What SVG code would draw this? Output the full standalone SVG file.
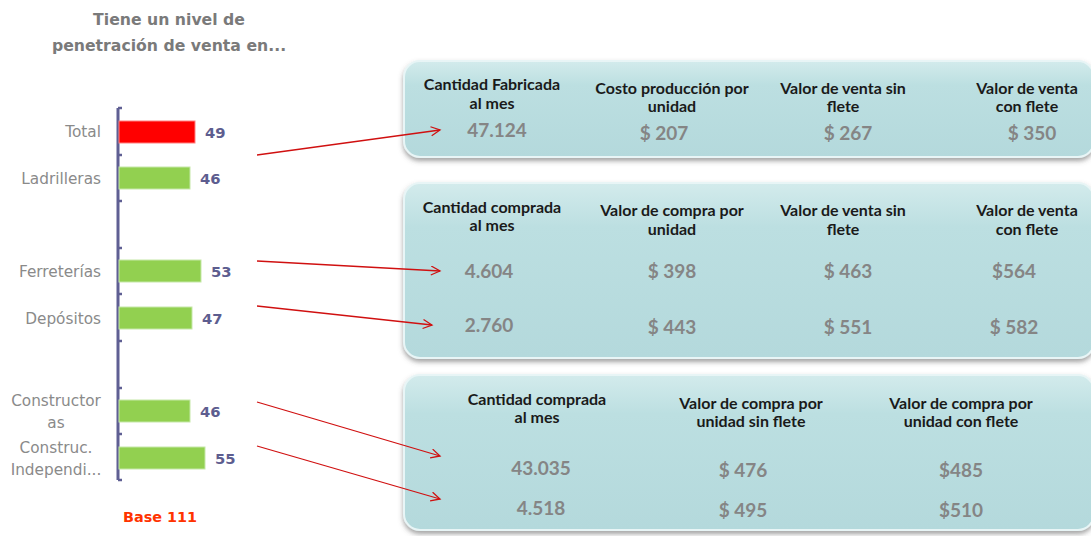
<svg xmlns="http://www.w3.org/2000/svg" width="1091" height="536" viewBox="0 0 1091 536">
<defs>
<linearGradient id="pg" x1="0" y1="0" x2="0" y2="1">
<stop offset="0" stop-color="#d3ebec"/>
<stop offset="0.25" stop-color="#bcdfe1"/>
<stop offset="1" stop-color="#b4d9dc"/>
</linearGradient>
<filter id="sh" x="-5%" y="-10%" width="110%" height="125%">
<feDropShadow dx="0" dy="3" stdDeviation="2.5" flood-color="#555" flood-opacity="0.55"/>
</filter>
<marker id="ah" markerWidth="12" markerHeight="12" refX="10" refY="5" orient="auto" markerUnits="userSpaceOnUse">
<path d="M1,0.5 L10,5 L1,9.5" fill="none" stroke="#d01010" stroke-width="1.3"/>
</marker>
<style>
.title{font-family:"DejaVu Sans",sans-serif;font-weight:bold;font-size:15.7px;fill:#7a7a7a;text-anchor:middle}
.cat{font-family:"DejaVu Sans",sans-serif;font-size:15.3px;fill:#8a8a8a;text-anchor:end}
.catc{font-family:"DejaVu Sans",sans-serif;font-size:15.3px;fill:#8a8a8a;text-anchor:middle}
.val{font-family:"DejaVu Sans",sans-serif;font-weight:bold;font-size:14.8px;fill:#5d5d8f}
.base{font-family:"DejaVu Sans",sans-serif;font-weight:bold;font-size:14.4px;fill:#ff3300;text-anchor:middle}
.hd{font-family:Lato,"Liberation Sans",sans-serif;font-weight:bold;font-size:16px;fill:#1a1a1a;text-anchor:middle}
.num{font-family:Lato,"Liberation Sans",sans-serif;font-weight:bold;font-size:19px;fill:#858585;text-anchor:middle}
.panel{fill:url(#pg);stroke:#e8f5f6;stroke-width:2;filter:url(#sh)}
.bar{fill:#92d050;stroke:#c5e8a8;stroke-width:1}
.axis{stroke:#5f5f93;stroke-width:3;fill:none}
.conn{stroke:#d01010;stroke-width:1.3;fill:none;marker-end:url(#ah)}
</style>
</defs>
<rect width="1091" height="536" fill="#ffffff"/>

<g id="title">
<text class="title" x="169" y="25">Tiene un nivel de</text>
<text class="title" x="169" y="51">penetración de venta en...</text>
</g>

<g id="axis">
<path class="axis" d="M118,108 V480"/>
<path d="M118,108 h4 M118,155 h4 M118,201 h4 M118,248 h4 M118,294 h4 M118,341 h4 M118,388 h4 M118,434 h4 M118,480 h4" stroke="#5f5f93" stroke-width="2.5"/>
</g>

<g id="bar-total">
<text class="cat" x="101" y="137">Total</text>
<rect x="119" y="121" width="76" height="22" fill="#ff0000" stroke="#ff8080" stroke-width="1"/>
<text class="val" x="205" y="138">49</text>
</g>
<g id="bar-ladrilleras">
<text class="cat" x="101" y="184">Ladrilleras</text>
<rect class="bar" x="119" y="167" width="71" height="22"/>
<text class="val" x="200" y="184">46</text>
</g>
<g id="bar-ferreterias">
<text class="cat" x="101" y="277">Ferreterías</text>
<rect class="bar" x="119" y="260" width="82" height="22"/>
<text class="val" x="211" y="277">53</text>
</g>
<g id="bar-depositos">
<text class="cat" x="101" y="324">Depósitos</text>
<rect class="bar" x="119" y="307" width="73" height="22"/>
<text class="val" x="202" y="324">47</text>
</g>
<g id="bar-constructoras">
<text class="catc" x="56" y="406">Constructor</text>
<text class="catc" x="56" y="428">as</text>
<rect class="bar" x="119" y="400" width="71" height="22"/>
<text class="val" x="200" y="417">46</text>
</g>
<g id="bar-independientes">
<text class="catc" x="56" y="453">Construc.</text>
<text class="catc" x="56" y="475">Independi...</text>
<rect class="bar" x="119" y="447" width="86" height="22"/>
<text class="val" x="215" y="464">55</text>
</g>
<g id="base">
<text class="base" x="160" y="522">Base 111</text>
</g>

<g id="panel-1">
<rect class="panel" x="404" y="61" width="690" height="96" rx="16"/>
<text class="hd" x="492" y="90">Cantidad Fabricada</text>
<text class="hd" x="492" y="109">al mes</text>
<text class="hd" x="672" y="94">Costo producción por</text>
<text class="hd" x="672" y="112">unidad</text>
<text class="hd" x="843" y="94">Valor de venta sin</text>
<text class="hd" x="843" y="112">flete</text>
<text class="hd" x="1027" y="94">Valor de venta</text>
<text class="hd" x="1027" y="112">con flete</text>
<text class="num" x="497" y="137">47.124</text>
<text class="num" x="664" y="140">$ 207</text>
<text class="num" x="848" y="140">$ 267</text>
<text class="num" x="1032" y="140">$ 350</text>
</g>

<g id="panel-2">
<rect class="panel" x="404" y="183" width="690" height="175" rx="16"/>
<text class="hd" x="492" y="213">Cantidad comprada</text>
<text class="hd" x="492" y="231">al mes</text>
<text class="hd" x="672" y="216">Valor de compra por</text>
<text class="hd" x="672" y="235">unidad</text>
<text class="hd" x="843" y="216">Valor de venta sin</text>
<text class="hd" x="843" y="235">flete</text>
<text class="hd" x="1027" y="216">Valor de venta</text>
<text class="hd" x="1027" y="235">con flete</text>
<text class="num" x="489" y="278">4.604</text>
<text class="num" x="672" y="278">$ 398</text>
<text class="num" x="848" y="278">$ 463</text>
<text class="num" x="1014" y="278">$564</text>
<text class="num" x="489" y="332">2.760</text>
<text class="num" x="672" y="334">$ 443</text>
<text class="num" x="848" y="334">$ 551</text>
<text class="num" x="1014" y="334">$ 582</text>
</g>

<g id="panel-3">
<rect class="panel" x="404" y="375" width="690" height="155" rx="16"/>
<text class="hd" x="537" y="405">Cantidad comprada</text>
<text class="hd" x="537" y="423">al mes</text>
<text class="hd" x="751" y="409">Valor de compra por</text>
<text class="hd" x="751" y="427">unidad sin flete</text>
<text class="hd" x="961" y="409">Valor de compra por</text>
<text class="hd" x="961" y="427">unidad con flete</text>
<text class="num" x="541" y="475">43.035</text>
<text class="num" x="743" y="477">$ 476</text>
<text class="num" x="961" y="477">$485</text>
<text class="num" x="541" y="515">4.518</text>
<text class="num" x="743" y="517">$ 495</text>
<text class="num" x="961" y="517">$510</text>
</g>

<g id="connectors">
<path class="conn" d="M257,155 L440,130"/>
<path class="conn" d="M257,261 L440,271"/>
<path class="conn" d="M257,306 L432,325"/>
<path class="conn" d="M257,402 L440,456"/>
<path class="conn" d="M257,446 L440,499"/>
</g>
</svg>
